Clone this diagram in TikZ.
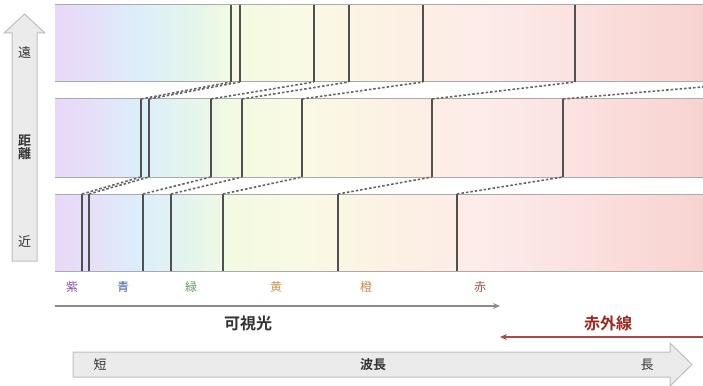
\documentclass[tikz,border=0pt]{standalone}
\usepackage{fontspec}
\newfontfamily\jp{Noto Sans CJK JP}
\newfontfamily\jpb{Noto Sans CJK JP Bold}
\usetikzlibrary{arrows.meta}
\definecolor{s0}{RGB}{233,216,248}
\definecolor{s1}{RGB}{228,226,249}
\definecolor{s2}{RGB}{220,238,250}
\definecolor{s3}{RGB}{228,245,238}
\definecolor{s4}{RGB}{242,250,225}
\definecolor{s5}{RGB}{250,250,228}
\definecolor{s6}{RGB}{252,240,228}
\definecolor{s7}{RGB}{252,234,232}
\definecolor{s8}{RGB}{250,223,221}
\definecolor{s9}{RGB}{247,211,208}
\pgfdeclarehorizontalshading{spec}{100bp}{color(0bp)=(s0); color(25bp)=(s0); color(28.47bp)=(s1); color(31.56bp)=(s2); color(35.42bp)=(s3); color(38.5bp)=(s4); color(43.9bp)=(s5); color(51.6bp)=(s6); color(59.3bp)=(s7); color(67.05bp)=(s8); color(75bp)=(s9); color(100bp)=(s9)}
\definecolor{cviolet}{RGB}{123,79,168}
\definecolor{cblue}{RGB}{59,92,171}
\definecolor{cgreen}{RGB}{94,158,94}
\definecolor{cyellow}{RGB}{200,150,80}
\definecolor{corange}{RGB}{204,132,71}
\definecolor{cred}{RGB}{176,80,62}
\definecolor{ir}{RGB}{154,42,34}
\definecolor{edge}{RGB}{170,170,170}
\definecolor{divider}{RGB}{80,80,80}
\definecolor{dashc}{RGB}{100,100,100}
\definecolor{bigfill}{RGB}{235,235,235}
\definecolor{bigdraw}{RGB}{190,190,190}
\tikzset{
  bandedge/.style={draw=edge, line width=1pt},
  divline/.style={draw=divider, line width=1.3pt},
  dashline/.style={draw=dashc, line width=1.6pt, dash pattern=on 2.5pt off 2pt},
  colorlabel/.style={font=\jp\fontsize{12}{14}\selectfont, inner sep=0pt},
  biglabel/.style={font=\jpb\fontsize{16}{18}\selectfont, inner sep=0pt},
  axislabel/.style={font=\jp\fontsize{13}{15}\selectfont, inner sep=0pt, text=black!80},
  bigarrow/.style={fill=bigfill, draw=bigdraw, line width=1pt},
}
\begin{document}
\begin{tikzpicture}[x=1pt,y=-1pt]
\useasboundingbox (0,0) rectangle (703,385);
% bands
\foreach \t/\b in {5/82, 99/177, 194/271}{
  \shade[shading=spec] (55,\t) rectangle (703,\b);
  \draw[bandedge] (55,\t) -- (703,\t);
  \draw[bandedge] (55,\b) -- (703,\b);
}
% band 1 (far) dividers
\foreach \x [count=\i] in {231,240,314,349,423,575}{
  \coordinate (a\i t) at (\x,5);
  \coordinate (a\i b) at (\x,82);
  \draw[divline] (a\i t) -- (a\i b);
}
\coordinate (a7b) at (760,82);
% band 2 dividers
\foreach \x [count=\i] in {141,149,211,242,302,432,563}{
  \coordinate (b\i t) at (\x,99);
  \coordinate (b\i b) at (\x,177);
  \draw[divline] (b\i t) -- (b\i b);
}
% band 3 (near) dividers
\foreach \x [count=\i] in {82,89,143,171,223,338,457}{
  \coordinate (c\i t) at (\x,194);
  \coordinate (c\i b) at (\x,271);
  \draw[divline] (c\i t) -- (c\i b);
}
% dashed connectors
\foreach \i in {1,...,7}{
  \draw[dashline] (c\i t) -- (b\i b);
  \draw[dashline] (b\i t) -- (a\i b);
}
% left distance arrow
\draw[bigarrow] (12,261) -- (12,33) -- (4,33) -- (24.5,14) -- (45,33) -- (37,33) -- (37,261) -- cycle;
\node[axislabel] (far) at (24.5,53) {遠};
\node[axislabel, font=\jpb\fontsize{13}{15}\selectfont, align=center] (dist) at (24.5,147) {距\\[-2pt]離};
\node[axislabel] (near) at (24.5,242) {近};
% colour labels
\node[colorlabel, text=cviolet] (lv) at (72,287) {紫};
\node[colorlabel, text=cblue] (lb) at (123,287) {青};
\node[colorlabel, text=cgreen] (lg) at (191,287) {緑};
\node[colorlabel, text=cyellow] (ly) at (276,287) {黄};
\node[colorlabel, text=corange] (lo) at (366,287) {橙};
\node[colorlabel, text=cred] (lr) at (480,287) {赤};
% visible light arrow
\coordinate (visS) at (55,306);
\coordinate (visE) at (500,306);
\draw[draw=black!45, line width=2pt, -{Stealth[length=7pt,width=6pt]}] (visS) -- (visE);
\node[biglabel, text=black!80] (vis) at (248,323) {可視光};
% infrared arrow
\coordinate (irS) at (703,337);
\coordinate (irE) at (500,337);
\draw[draw=ir!85, line width=1.3pt, -{Stealth[length=7pt,width=6pt]}] (irS) -- (irE);
\node[biglabel, text=ir] (irl) at (608,323) {赤外線};
% wavelength arrow
\draw[bigarrow] (73,352) -- (670,352) -- (670,343) -- (692,364.5) -- (670,386) -- (670,377) -- (73,377) -- cycle;
\node[axislabel] (short) at (100,365) {短};
\node[axislabel, font=\jpb\fontsize{13}{15}\selectfont] (wl) at (373,365) {波長};
\node[axislabel] (long) at (647,365) {長};
\end{tikzpicture}
\end{document}
